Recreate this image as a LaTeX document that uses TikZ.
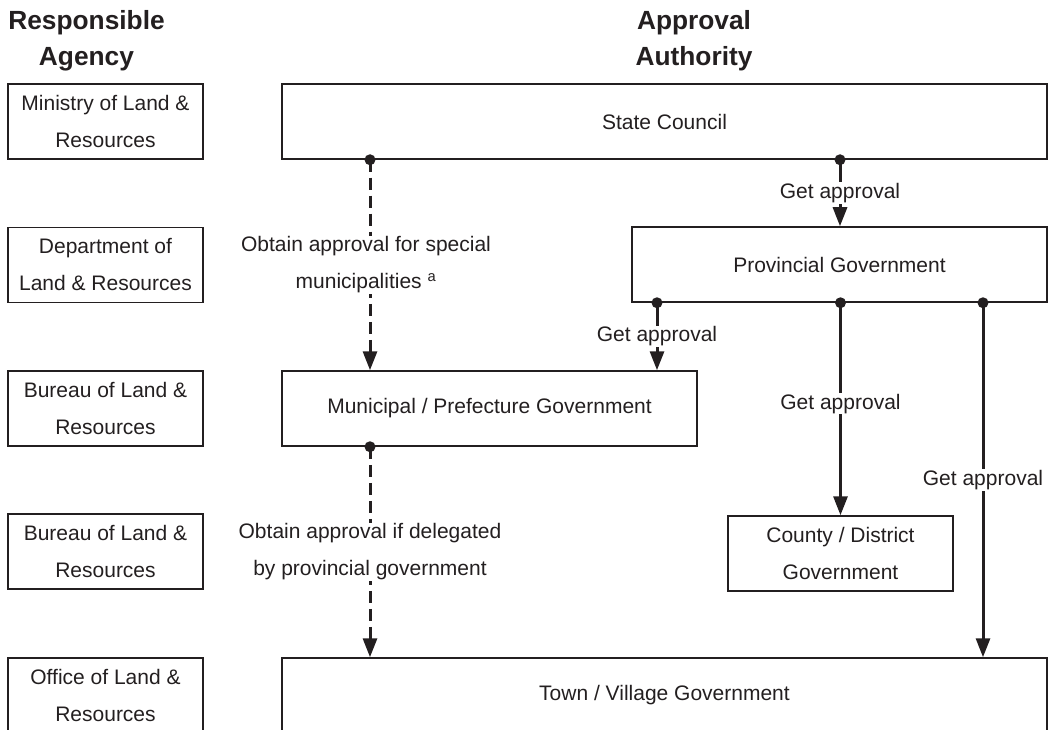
\documentclass[tikz,border=0pt]{standalone}
\usepackage{fontspec}
\setmainfont{Liberation Sans}
\usetikzlibrary{positioning}
\usetikzlibrary{arrows.meta}
\usetikzlibrary{calc}

\definecolor{ink}{RGB}{35,31,32}
\newcommand{\bodyfont}{\fontsize{21}{37}\selectfont}
\newcommand{\headfont}{\bfseries\fontsize{26.3}{36}\selectfont}

\tikzset{
  heading/.style={font=\headfont, align=center, text=ink, inner sep=0pt},
  agency/.style={draw=ink, line width=1.5pt, minimum width=195pt, minimum height=75pt,
    inner sep=0pt, align=center, font=\bodyfont, text=ink},
  authority/.style={draw=ink, line width=1.5pt, minimum height=75pt,
    inner sep=0pt, align=center, font=\bodyfont, text=ink},
  flow/.style={draw=ink, line width=3pt, -{Triangle[length=19pt,width=14pt]}},
  dashflow/.style={flow, dash pattern=on 12pt off 6pt},
  lbl/.style={fill=white, inner sep=1pt, align=center, font=\bodyfont, text=ink}
}

\begin{document}
\begin{tikzpicture}[x=1pt, y=-1pt]
  \useasboundingbox (0,0) rectangle (1050,730);

  % column headings
  \node[heading] (hagency) at (86.5,41) {Responsible\\Agency};
  \node[heading] (hauth) at (694,41) {Approval\\Authority};

  % responsible agencies
  \node[agency] (ministry) at (105.5,121.5) {Ministry of Land \&\\Resources};
  \node[agency] (dept) at (105.5,265) {Department of\\Land \& Resources};
  \node[agency] (bureauA) at (105.5,408.5) {Bureau of Land \&\\Resources};
  \node[agency] (bureauB) at (105.5,551.5) {Bureau of Land \&\\Resources};
  \node[agency] (office) at (105.5,695.5) {Office of Land \&\\Resources};

  % approval authorities
  \node[authority, minimum width=765pt] (state) at (664.5,121.5) {State Council};
  \node[authority, minimum width=415pt] (prov) at (839.5,264.5) {Provincial Government};
  \node[authority, minimum width=415pt] (muni) at (489.5,408.5) {Municipal / Prefecture Government};
  \node[authority, minimum width=225pt] (county) at (840.5,553.5) {County / District\\Government};
  \node[authority, minimum width=765pt] (town) at (664.5,695.5) {Town / Village Government};

  % start points on the box borders
  \coordinate (stateA) at (state.south -| 370,0);
  \coordinate (stateB) at (state.south -| 840,0);
  \coordinate (provA) at (prov.south -| 657,0);
  \coordinate (provB) at (prov.south -| county.north);
  \coordinate (provC) at (prov.south -| 983,0);
  \coordinate (muniA) at (muni.south -| 370,0);

  \draw[dashflow] (stateA) -- node[lbl, xshift=-4pt] {Obtain approval for special\\municipalities \textsuperscript{a}} (stateA |- muni.north);
  \draw[flow] (stateB) -- node[lbl] {Get approval} (stateB |- prov.north);
  \draw[flow] (provA) -- node[lbl] {Get approval} (provA |- muni.north);
  \draw[flow] (provB) -- node[lbl, pos=0.475] {Get approval} (county.north);
  \draw[flow] (provC) -- node[lbl] {Get approval} (provC |- town.north);
  \draw[dashflow] (muniA) -- node[lbl] {Obtain approval if delegated\\by provincial government} (muniA |- town.north);

  \foreach \d in {stateA,stateB,provA,provB,provC,muniA}
    {\fill[ink] (\d) circle (5.5pt);}
\end{tikzpicture}
\end{document}
